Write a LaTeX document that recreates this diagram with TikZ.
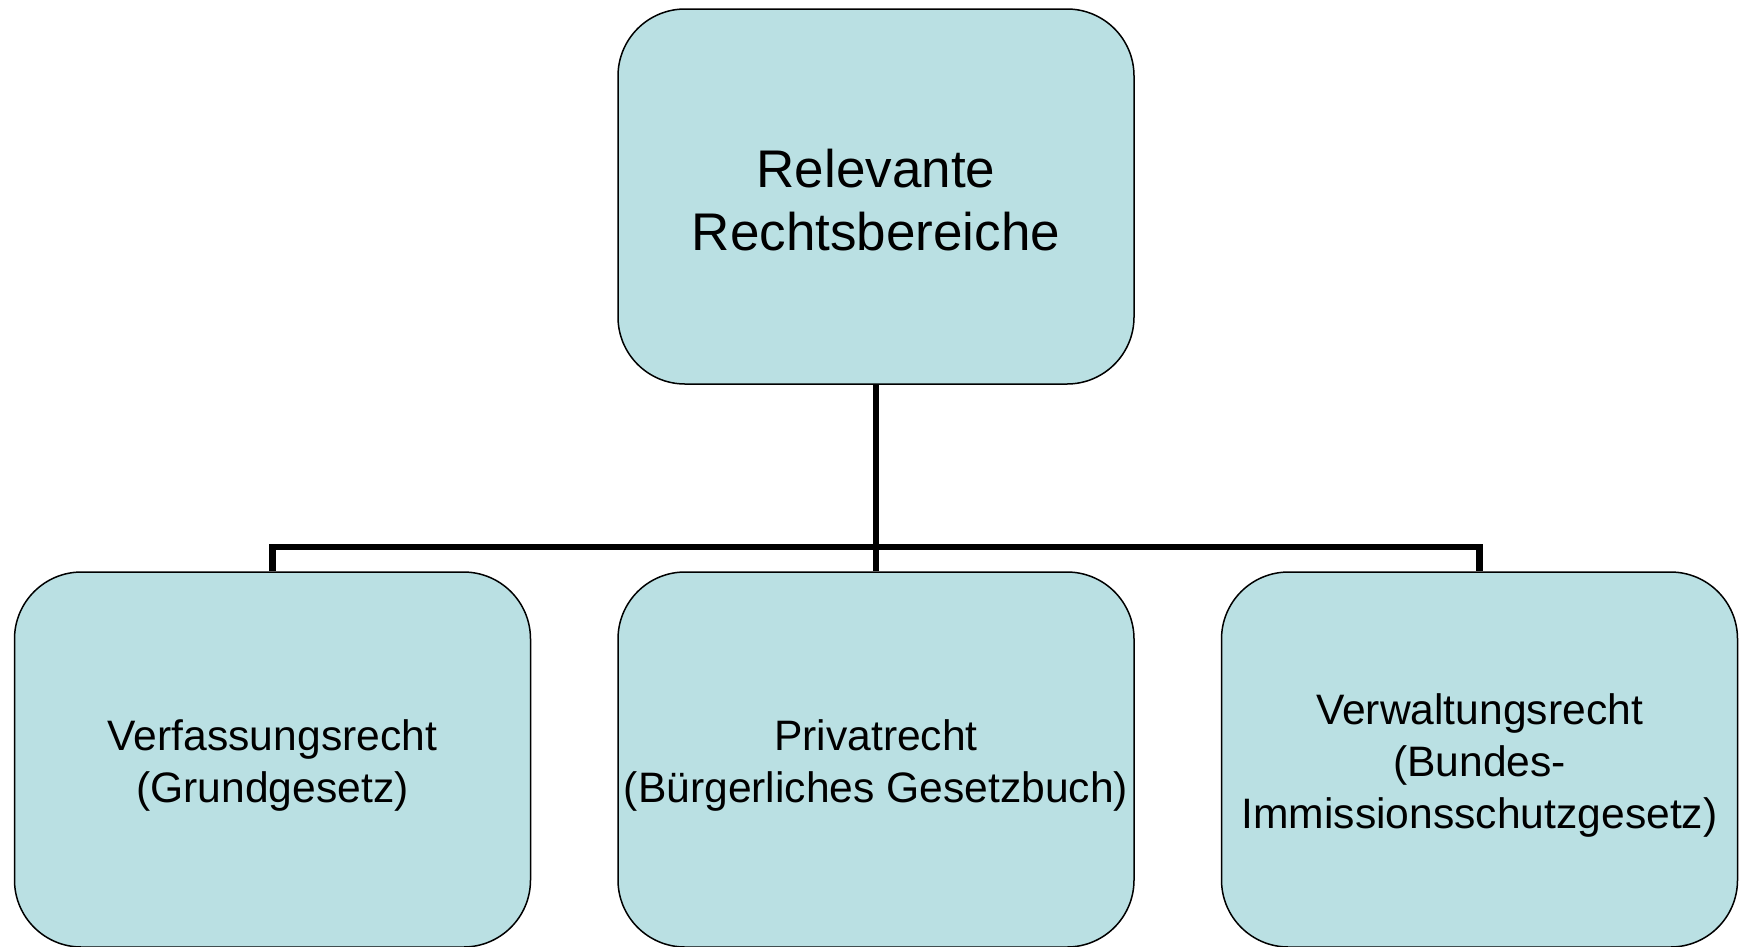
\documentclass[tikz,border=0pt]{standalone}
\usepackage{fontspec}
\setmainfont{Liberation Sans}
\definecolor{boxfill}{RGB}{186,224,227}
\begin{document}
\begin{tikzpicture}[x=1pt,y=-1pt,
  box/.style={draw=black, line width=1.5pt, fill=boxfill, rounded corners=67pt,
    minimum width=516pt, minimum height=375pt, inner sep=0pt},
  toptext/.style={align=center, inner sep=0pt, font=\fontsize{53}{63}\selectfont},
  subtext/.style={align=center, inner sep=0pt, font=\fontsize{42.6}{52}\selectfont},
  conn/.style={line width=6.5pt}]
\useasboundingbox (0,0) rectangle (1742,946);
\node[box] (top) at (876,196.5) {};
\node[box] (left) at (272.5,759.5) {};
\node[box] (mid) at (876,759.5) {};
\node[box] (right) at (1479.5,759.5) {};
\node[toptext, yshift=-4pt] (topt) at (top.center) {Relevante\\Rechtsbereiche};
\node[subtext, yshift=-5.5pt] (leftt) at (left.center) {Verfassungsrecht\\(Grundgesetz)};
\node[subtext, yshift=-5.5pt] (midt) at (mid.center) {Privatrecht\\(Bürgerliches Gesetzbuch)};
\node[subtext, yshift=-5.5pt] (rightt) at (right.center) {Verwaltungsrecht\\(Bundes-\\Immissionsschutzgesetz)};
\coordinate (j) at (876,547);
\draw[conn] (top.south) -- (j);
\draw[conn] (j) -| (left.north);
\draw[conn] (j) -- (mid.north);
\draw[conn] (j) -| (right.north);
\end{tikzpicture}
\end{document}
